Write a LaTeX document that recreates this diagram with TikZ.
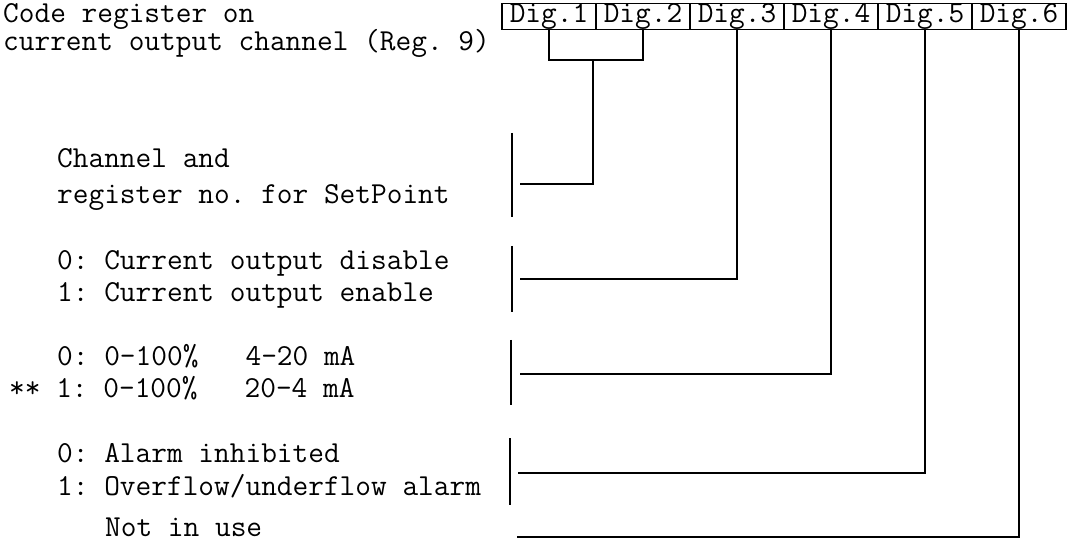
\documentclass[tikz,border=0pt]{standalone}
\usepackage{tikz}
\usetikzlibrary{positioning}

\begin{document}
\begin{tikzpicture}[x=1pt, y=-1pt,
    every node/.style={font=\fontsize{30.48}{34}\selectfont\ttfamily\frenchspacing, inner sep=0pt},
    digbox/.style={draw, line width=1.2pt, minimum width=94pt, minimum height=25pt},
    txt/.style={anchor=mid west},
    wire/.style={line width=1.6pt}]
  \useasboundingbox (0,0) rectangle (1071,545);
  % register cells
  \foreach \i in {1,...,6}
    \node[digbox] (d\i) at ({502+94*(\i-0.5)},16.5) {Dig.\i};
  \node[txt] (head1) at (3,20) {Code register on};
  \node[txt] (head2) at (3,48) {current output channel (Reg. 9)};
  % descriptions
  \node[txt] (chan1) at (57,165) {Channel and};
  \node[txt] (chan2) at (57,201) {register no. for SetPoint};
  \node[txt] (ena0) at (57,267) {0: Current output disable};
  \node[txt] (ena1) at (57,299) {1: Current output enable};
  \node[txt] (rng0) at (57,363) {0: 0-100\%~~~4-20 mA};
  \node[txt] (rng1) at (9,395) {** 1: 0-100\%~~~20-4 mA};
  \node[txt] (alm0) at (57,460) {0: Alarm inhibited};
  \node[txt] (alm1) at (57,493) {1: Overflow/underflow alarm};
  \node[txt] (unused) at (105,534) {Not in use};
  % brackets
  \draw[wire] (512,133) -- (512,217);
  \draw[wire] (512,246) -- (512,312);
  \draw[wire] (511,340) -- (511,405);
  \draw[wire] (510,438) -- (510,505);
  % connectors
  \coordinate (j12) at (593,60);
  \coordinate (h1) at (520,184);
  \coordinate (h2) at (520,279);
  \coordinate (h3) at (520,374);
  \coordinate (h4) at (518,473);
  \coordinate (h5) at (517,537);
  \draw[wire] (d1.south) |- (j12) -| (d2.south);
  \draw[wire] (j12) |- (h1);
  \draw[wire] (d3.south) |- (h2);
  \draw[wire] (d4.south) |- (h3);
  \draw[wire] (d5.south) |- (h4);
  \draw[wire] (d6.south) |- (h5);
\end{tikzpicture}
\end{document}
